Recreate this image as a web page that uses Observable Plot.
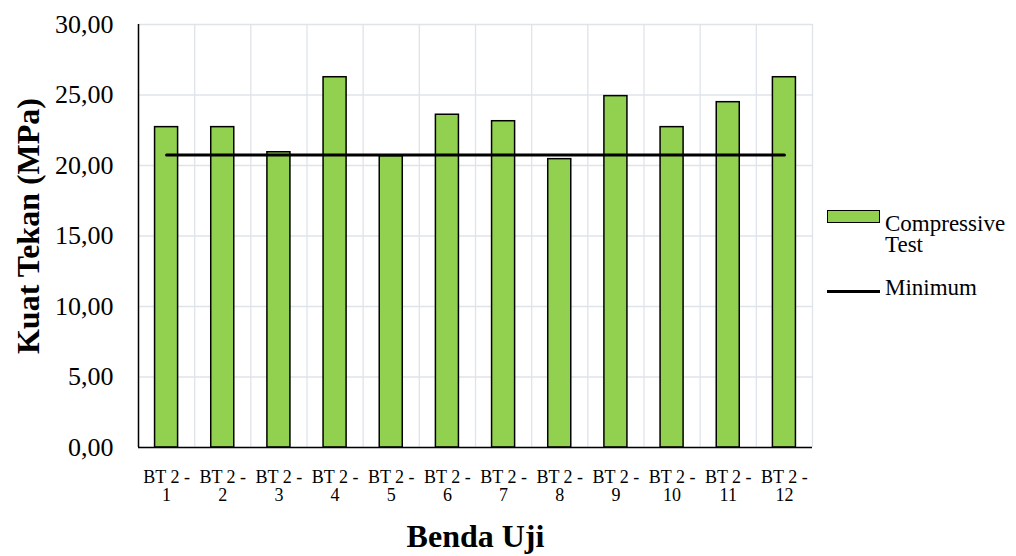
<!DOCTYPE html>
<html>
<head>
<meta charset="utf-8">
<script src="https://cdn.jsdelivr.net/npm/d3@7"></script>
<script src="https://cdn.jsdelivr.net/npm/@observablehq/plot@0.6"></script>
<style>
  html, body { margin: 0; padding: 0; background: #fff; }
  #chart { position: relative; width: 1016px; height: 556px; font-family: "Liberation Serif", "Times New Roman", serif; color: #000; }
  #chart svg { position: absolute; left: 0; top: 0; }
  .legend-text { position: absolute; font-size: 23px; line-height: 21px; }
  .swatch { position: absolute; box-sizing: border-box; }
</style>
</head>
<body>
<div id="chart"></div>
<script>
// Compressive strength per specimen (MPa)
const categories = ["BT 2 - 1", "BT 2 - 2", "BT 2 - 3", "BT 2 - 4", "BT 2 - 5", "BT 2 - 6",
                    "BT 2 - 7", "BT 2 - 8", "BT 2 - 9", "BT 2 - 10", "BT 2 - 11", "BT 2 - 12"];
const compressive = [22.72, 22.72, 20.94, 26.26, 20.66, 23.60, 23.14, 20.45, 24.92, 22.72, 24.49, 26.26];
const minimum = [20.75, 20.75, 20.75, 20.75, 20.75, 20.75, 20.75, 20.75, 20.75, 20.75, 20.75, 20.75];
const yTicks = [0, 5, 10, 15, 20, 25, 30];
const yLabel = "Kuat Tekan (MPa)";
const xLabel = "Benda Uji";
const seriesNames = ["Compressive Test", "Minimum"];

const green = "#92d050";
const gridColor = "#dfe3ea";

const rows = categories.map((name, k) => ({
  pos: k + 1,
  name,
  value: compressive[k],
  min: minimum[k]
}));

const fmt = v => d3.format(".2f")(v).replace(".", ",");
// "BT 2 - 1" -> "BT 2 -" / "1"
const wrapName = name => {
  const cut = name.lastIndexOf(" ");
  return name.slice(0, cut) + "\n" + name.slice(cut + 1);
};
const half = 0.205; // half bar width, in category units

const plot = Plot.plot({
  width: 820,
  height: 556,
  marginLeft: 138,
  marginRight: 8,
  marginTop: 24,
  marginBottom: 109,
  style: { fontFamily: "Liberation Serif, Times New Roman, serif", color: "#000", background: "transparent", overflow: "visible" },
  x: { type: "linear", domain: [0.5, categories.length + 0.5] },
  y: { domain: [0, 30] },
  marks: [
    Plot.gridY({ ticks: yTicks, stroke: gridColor, strokeOpacity: 1, strokeWidth: 1.3 }),
    Plot.gridX({ ticks: d3.range(0.5, categories.length + 1), stroke: gridColor, strokeOpacity: 1, strokeWidth: 1.3 }),
    Plot.axisY({ ticks: yTicks, tickFormat: fmt, tickSize: 0, tickPadding: 25, fontSize: 26, label: null }),
    Plot.axisX({
      ticks: rows.map(r => r.pos),
      tickFormat: p => wrapName(categories[p - 1]),
      tickSize: 0, tickPadding: 23, fontSize: 18, lineHeight: 1, label: null
    }),
    Plot.rectY(rows, {
      x1: r => r.pos - half,
      x2: r => r.pos + half,
      y: "value",
      fill: green,
      stroke: "#000",
      strokeWidth: 1.5
    }),
    Plot.ruleX([0.5], { stroke: "#000", strokeWidth: 1.5 }),
    Plot.ruleY([0], { stroke: "#000", strokeWidth: 1.5 }),
    Plot.lineY(rows, { x: "pos", y: "min", stroke: "#000", strokeWidth: 3 }),
    Plot.text([yLabel], {
      frameAnchor: "left", textAnchor: "middle", lineAnchor: "middle",
      rotate: -90, dx: -110, dy: -10,
      fontSize: 32, fontWeight: "bold", text: d => d
    }),
    Plot.text([xLabel], {
      frameAnchor: "bottom", lineAnchor: "middle", dy: 89,
      fontSize: 32, fontWeight: "bold", text: d => d
    })
  ]
});

const chart = document.getElementById("chart");
chart.appendChild(plot);

// Legend on the right
const legend = document.createElement("div");
legend.innerHTML = `
  <div class="swatch" style="left:827px;top:210px;width:53px;height:13px;background:${green};border:1.6px solid #000"></div>
  <div class="legend-text" style="left:885px;top:213px;width:128px">${seriesNames[0]}</div>
  <div class="swatch" style="left:827px;top:289.5px;width:53px;height:3px;background:#000"></div>
  <div class="legend-text" style="left:885px;top:277px">${seriesNames[1]}</div>
`;
chart.appendChild(legend);
</script>
</body>
</html>
